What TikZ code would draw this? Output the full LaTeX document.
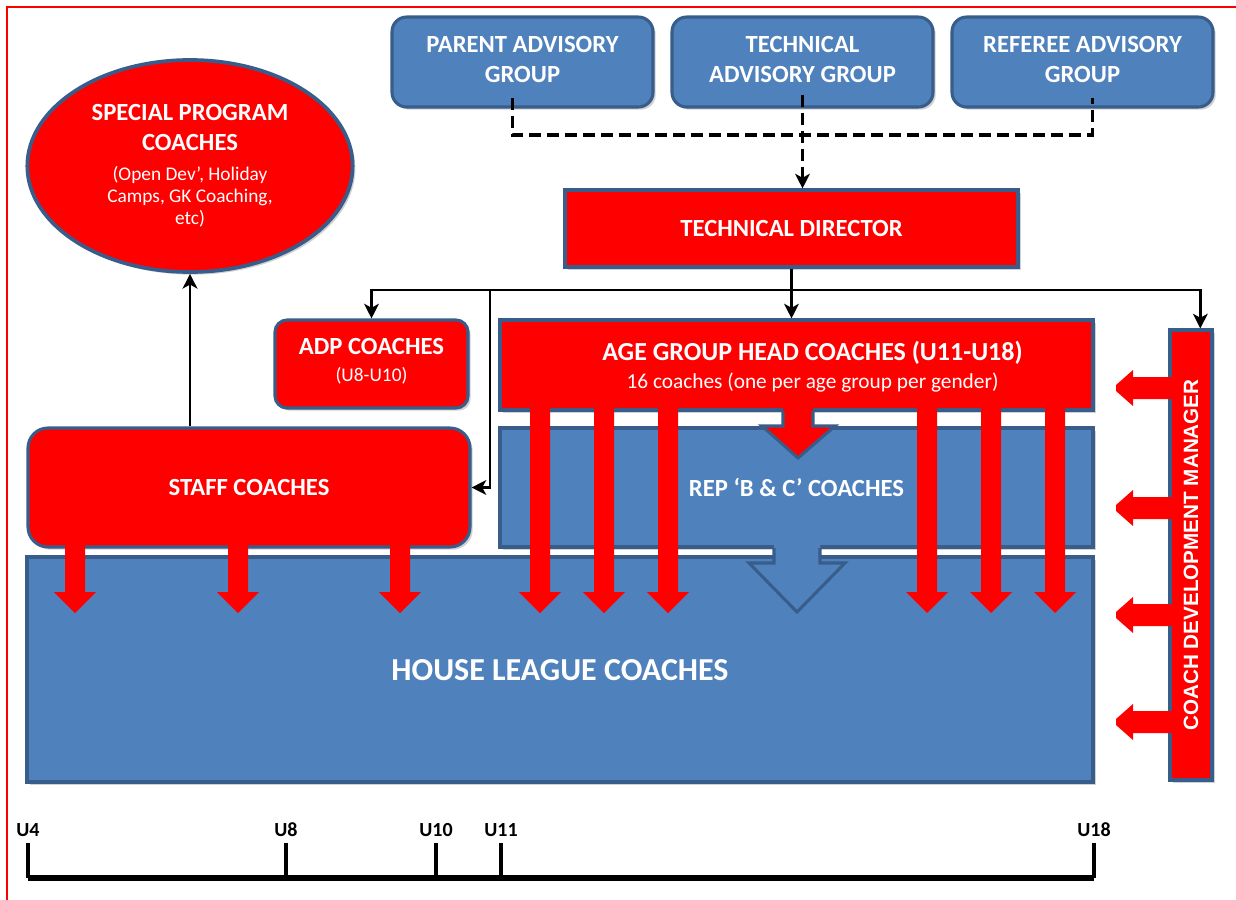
\documentclass[tikz,border=0pt]{standalone}
\usepackage{fontspec}
\setmainfont{Carlito}
\newfontfamily\arialfont{Liberation Sans}
\usepackage{tikz}
\usetikzlibrary{arrows.meta,positioning,fit,calc,shapes.geometric,shadows}
\definecolor{officeblue}{HTML}{4F81BD}
\definecolor{officeedge}{HTML}{385D8A}
\definecolor{officered}{HTML}{FF0000}
\newcommand{\boxfont}{\fontsize{18.5}{22.5}\selectfont\bfseries}
\newcommand{\notefont}{\fontsize{14.5}{17.5}\selectfont\mdseries}

\begin{document}
\begin{tikzpicture}[
  x=0.75pt, y=-0.75pt,
  boxbase/.style={draw=officeedge, line width=2.3pt, inner sep=0pt, text=white, align=center, font=\boxfont,
    drop shadow={shadow xshift=2pt, shadow yshift=-2pt, opacity=0.3, fill=black!60}},
  bluebox/.style={boxbase, fill=officeblue},
  redbox/.style={boxbase, fill=officered},
  boxtext/.style={text=white, align=center, text depth=0pt, font=\boxfont},
  link/.style={-{Stealth[length=11pt,width=11pt,inset=3pt]}, line width=2.2pt, draw=black},
  dashlink/.style={line width=2.6pt, dash pattern=on 9pt off 4.5pt, draw=black},
  agelabel/.style={anchor=base, font=\fontsize{15}{18}\selectfont\bfseries},
  agetick/.style={line width=3pt, draw=black},
  edgeline/.style={draw=officeedge, line width=2.3pt, line join=miter}
]
  \useasboundingbox (0,0) rectangle (1236,900);
  \draw[officered, line width=1.2pt] (7,900) |- (1236,7);

  \node[bluebox, rounded corners=11pt, fit={(392,17) (653,107)},
    label={[boxtext, yshift=2pt]center:PARENT ADVISORY\\GROUP}] (parent) {};
  \node[bluebox, rounded corners=11pt, fit={(672,17) (933,107)},
    label={[boxtext, yshift=2pt]center:TECHNICAL\\ADVISORY GROUP}] (techadv) {};
  \node[bluebox, rounded corners=11pt, fit={(952,17) (1213,107)},
    label={[boxtext, yshift=2pt]center:REFEREE ADVISORY\\GROUP}] (referee) {};
  \node[redbox, fit={(565,190) (1018,267)},
    label={[boxtext]center:TECHNICAL DIRECTOR}] (techdir) {};
  \node[redbox, ellipse, line width=2.8pt, minimum width=244pt, minimum height=159pt] (special) at (190,166)
    {SPECIAL PROGRAM\\COACHES\\\notefont (Open Dev’, Holiday\\[-6pt]\notefont Camps, GK Coaching,\\[-6pt]\notefont etc)};
  \node[redbox, rounded corners=9pt, fit={(275,320) (468,408)},
    label={[boxtext, yshift=3pt]center:ADP COACHES\\[-2pt]{\notefont (U8-U10)}}] (adp) {};
  \node[redbox, rounded corners=15pt, fit={(28,428) (470,547)},
    label={[boxtext]center:STAFF COACHES}] (staff) {};
  \node[bluebox, fit={(27,557) (1093,782)},
    label={[boxtext, font=\fontsize{24}{28}\selectfont\bfseries]center:HOUSE LEAGUE COACHES}] (house) {};
  \node[bluebox, fit={(500,428) (1093,547)},
    label={[boxtext]center:REP ‘B \& C’ COACHES}] (rep) {};
  \node[redbox, fit={(500,320) (1093,410)},
    label={[boxtext, xshift=12pt, font=\fontsize{19.5}{21}\selectfont\bfseries]center:AGE GROUP HEAD COACHES (U11-U18)\\{\fontsize{16}{19}\selectfont\mdseries 16 coaches (one per age group per gender)}}] (aghc) {};
  \node[redbox, fit={(1170,330) (1212,780)},
    label={[boxtext, rotate=90, font=\arialfont\fontsize{15.5}{18}\selectfont\bfseries]center:COACH DEVELOPMENT MANAGER}] (cdm) {};

  \foreach \c in {540,604,668,927,991,1055}
    \fill[officered] ({\c-10},404) -- ({\c-10},592) -- ({\c-21},592) -- (\c,613) -- ({\c+21},592) -- ({\c+10},592) -- ({\c+10},404) -- cycle;
  \foreach \c in {75,238,400}
    \fill[officered] ({\c-10},540) -- ({\c-10},592) -- ({\c-21},592) -- (\c,613) -- ({\c+21},592) -- ({\c+10},592) -- ({\c+10},540) -- cycle;
  \foreach \y in {388,508,615,722}
    \fill[officered] (1174,{\y-11}) -- (1133,{\y-11}) -- (1133,{\y-18}) -- (1116,{\y-3}) -- (1116,{\y+3}) -- (1133,{\y+18}) -- (1133,{\y+11}) -- (1174,{\y+11}) -- cycle;

  \fill[officered] (783,404) -- (783,426) -- (762,426) -- (798,458) -- (835,426) -- (813,426) -- (813,404) -- cycle;
  \draw[edgeline] (783,411) -- (783,426) -- (762,426) -- (798,458) -- (835,426) -- (813,426) -- (813,411);
  \fill[officeblue] (774,542) -- (774,563) -- (749,563) -- (797,612) -- (845,563) -- (820,563) -- (820,542) -- cycle;
  \draw[edgeline] (774,548) -- (774,563) -- (749,563) -- (797,612) -- (845,563) -- (820,563) -- (820,548);

  \coordinate (advjoin) at (techadv.south |- 0,135);
  \draw[dashlink] ([xshift=-7.5pt,yshift=8pt]parent.south) |- (advjoin) -| ([xshift=7.5pt,yshift=8pt]referee.south);
  \draw[dashlink, -{Stealth[length=11pt,width=11pt,inset=3pt]}] ([yshift=10.5pt]techadv.south) -- (techadv.south |- techdir.north);

  \coordinate (bus) at (techdir.south |- 0,290);
  \draw[link] (techdir.south) -- (techdir.south |- aghc.north);
  \draw[link] (bus) -| (adp.north);
  \draw[link] (bus) -| ([xshift=7pt]cdm.north);
  \draw[link] (bus -| 490,0) |- (staff.east);
  \draw[link] (special.south |- staff.north) -- (special.south);

  \foreach \x/\age in {28/U4,286/U8,436/U10,501/U11,1094/U18} {
    \node[agelabel] (\age) at (\x,836) {\age};
    \draw[agetick] (\x,843) -- (\x,878);
  }
  \draw[line width=5pt] (U4 |- 0,878) -- (U18 |- 0,878);
\end{tikzpicture}
\end{document}
